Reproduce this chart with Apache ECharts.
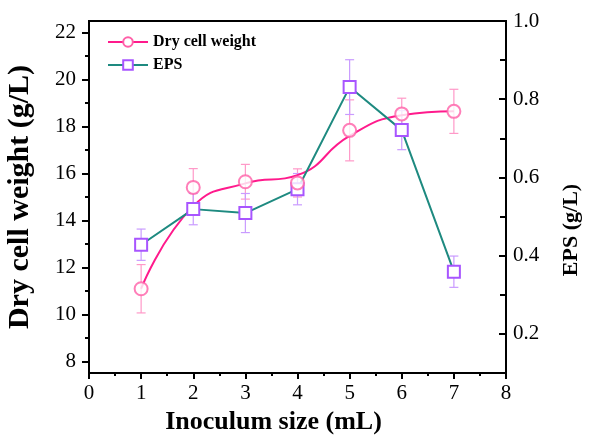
<!DOCTYPE html>
<html>
<head>
<meta charset="utf-8">
<script src="https://cdn.jsdelivr.net/npm/echarts@6/dist/echarts.min.js"></script>
<style>
  html, body { margin: 0; padding: 0; background: #fff; }
  #chart { width: 589px; height: 439px; }
</style>
</head>
<body>
<div id="chart"></div>
<script>
// 数据
const inoculum = [1, 2, 3, 4, 5, 6, 7]
const dcwMean = [11.09, 15.41, 15.65, 15.6, 17.84, 18.54, 18.65]
const dcwErr = [1.03, 0.8, 0.74, 0.6, 1.3, 0.67, 0.94]
// Origin 平滑曲线在各点处的读数（曲线不一定经过数据点）
const dcwCurve = [11.09, 14.61, 15.58, 15.93, 17.6, 18.48, 18.65]
const epsMean = [0.428, 0.519, 0.509, 0.570, 0.831, 0.721, 0.359]
const epsErr = [0.04, 0.04, 0.05, 0.04, 0.07, 0.05, 0.04]

// 刻度
const leftMajor = [8, 10, 12, 14, 16, 18, 20, 22]
const leftMinor = [9, 11, 13, 15, 17, 19, 21]
const rightMajor = [0.2, 0.4, 0.6, 0.8, 1.0]
const rightMinor = [0.1, 0.3, 0.5, 0.7, 0.9]

const FONT = '"Liberation Serif", "Times New Roman", serif'
const PINK_LINE = '#FF1A8C'
const PINK_MARK = '#FF5FA8'
const PINK_ERR = '#FF99C8'
const TEAL = '#1E8A80'
const PURPLE = '#A855FF'
const PURPLE_ERR = '#C99BFF'

const pairs = (ys) => inoculum.map((x, i) => [x, ys[i]])
const errData = (m, e) => inoculum.map((x, i) => [x, m[i] - e[i], m[i] + e[i]])

function errorBar(color) {
  return function (params, api) {
    const x = api.value(0)
    const lo = api.coord([x, api.value(1)])
    const hi = api.coord([x, api.value(2)])
    const w = 4.5
    const style = { stroke: color, lineWidth: 1.2 }
    return {
      type: 'group',
      children: [
        { type: 'line', shape: { x1: lo[0], y1: lo[1], x2: hi[0], y2: hi[1] }, style },
        { type: 'line', shape: { x1: lo[0] - w, y1: lo[1], x2: lo[0] + w, y2: lo[1] }, style },
        { type: 'line', shape: { x1: hi[0] - w, y1: hi[1], x2: hi[0] + w, y2: hi[1] }, style }
      ]
    }
  }
}

const axisLine = { show: true, lineStyle: { color: '#000', width: 2 } }
const labelStyle = { color: '#000', fontFamily: FONT, fontSize: 21 }

const chart = echarts.init(document.getElementById('chart'))
chart.setOption({
  animation: false,
  grid: {
    left: 89, right: 83, top: 21, bottom: 66,
    outerBoundsMode: 'none',
    containLabel: false,
    show: true, borderColor: '#000', borderWidth: 2
  },
  legend: {
    data: ['Dry cell weight', 'EPS'],
    orient: 'vertical',
    left: 102,
    top: 29,
    itemWidth: 40,
    itemHeight: 12,
    itemGap: 7,
    textStyle: { color: '#000', fontFamily: FONT, fontWeight: 'bold', fontSize: 16 }
  },
  xAxis: {
    type: 'value',
    min: 0,
    max: 8,
    interval: 1,
    name: 'Inoculum size (mL)',
    nameLocation: 'middle',
    nameGap: 36,
    nameTextStyle: { color: '#000', fontFamily: FONT, fontWeight: 'bold', fontSize: 26, padding: [0, 48, 0, 0] },
    axisLine,
    axisTick: { show: true, length: 6, lineStyle: { color: '#000', width: 2 } },
    minorTick: { show: true, splitNumber: 2, length: 3, lineStyle: { color: '#000', width: 2 } },
    axisLabel: { ...labelStyle, margin: 10 },
    splitLine: { show: false }
  },
  yAxis: [
    {
      type: 'value',
      position: 'left',
      min: 7.5,
      max: 22.5,
      name: 'Dry cell weight (g/L)',
      nameLocation: 'middle',
      nameRotate: 90,
      nameGap: 54,
      nameTextStyle: { color: '#000', fontFamily: FONT, fontWeight: 'bold', fontSize: 30 },
      axisLine,
      axisTick: { show: true, length: 7, customValues: leftMajor, lineStyle: { color: '#000', width: 2 } },
      axisLabel: { ...labelStyle, margin: 13, customValues: leftMajor },
      splitLine: { show: false }
    },
    {
      type: 'value',
      position: 'right',
      min: 0.1,
      max: 1.0,
      name: 'EPS (g/L)',
      nameLocation: 'middle',
      nameRotate: 90,
      nameGap: 54,
      nameTextStyle: { color: '#000', fontFamily: FONT, fontWeight: 'bold', fontSize: 22, padding: [0, 66, 0, 0] },
      axisLine,
      axisTick: { show: true, inside: true, length: 7, customValues: rightMajor, lineStyle: { color: '#000', width: 2 } },
      axisLabel: { ...labelStyle, margin: 7, customValues: rightMajor, formatter: (v) => v.toFixed(1) },
      splitLine: { show: false }
    },
    {
      // 左轴次刻度
      type: 'value',
      position: 'left',
      min: 7.5,
      max: 22.5,
      axisLine: { show: false },
      axisTick: { show: true, length: 4, customValues: leftMinor, lineStyle: { color: '#000', width: 2 } },
      axisLabel: { show: false },
      splitLine: { show: false }
    },
    {
      // 右轴次刻度
      type: 'value',
      position: 'right',
      min: 0.1,
      max: 1.0,
      axisLine: { show: false },
      axisTick: { show: true, inside: true, length: 6, customValues: rightMinor, lineStyle: { color: '#000', width: 2 } },
      axisLabel: { show: false },
      splitLine: { show: false }
    }
  ],
  series: [
    {
      name: 'Dry cell weight',
      type: 'line',
      yAxisIndex: 0,
      data: pairs(dcwCurve),
      smooth: 0.5,
      symbol: 'emptyCircle',
      symbolSize: 12,
      showSymbol: false,
      lineStyle: { color: PINK_LINE, width: 2 },
      itemStyle: { color: PINK_MARK, borderWidth: 1.5 },
      z: 3
    },
    {
      name: 'errDCW',
      type: 'custom',
      yAxisIndex: 0,
      data: errData(dcwMean, dcwErr),
      encode: { x: 0, y: [1, 2] },
      renderItem: errorBar(PINK_ERR),
      z: 1
    },
    {
      name: 'errEPS',
      type: 'custom',
      yAxisIndex: 1,
      data: errData(epsMean, epsErr),
      encode: { x: 0, y: [1, 2] },
      renderItem: errorBar(PURPLE_ERR),
      z: 1
    },
    {
      name: 'EPS',
      type: 'line',
      yAxisIndex: 1,
      data: pairs(epsMean),
      symbol: 'emptyRect',
      symbolSize: 12,
      lineStyle: { color: TEAL, width: 2 },
      itemStyle: { color: PURPLE, borderWidth: 1.5 },
      z: 4
    },
    {
      name: 'Dry cell weight',
      type: 'scatter',
      yAxisIndex: 0,
      data: pairs(dcwMean),
      symbol: 'emptyCircle',
      symbolSize: 13,
      itemStyle: { color: PINK_MARK, borderWidth: 1.5 },
      z: 5
    }
  ]
})
</script>
</body>
</html>
